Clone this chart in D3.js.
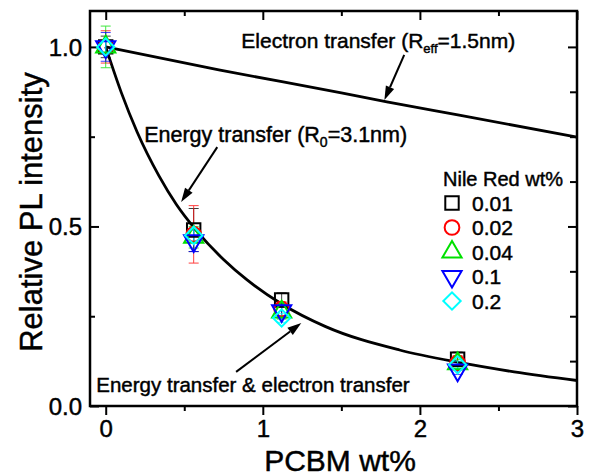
<!DOCTYPE html>
<html>
<head>
<meta charset="utf-8">
<script src="https://cdn.jsdelivr.net/npm/d3@7"></script>
<style>
  body { margin: 0; background: #fff; }
  svg { font-family: "Liberation Sans", Arial, sans-serif; }
  svg text { stroke: #000; stroke-width: 0.45px; }
</style>
</head>
<body>
<svg id="svg"></svg>
<script>
// measured data (PCBM wt%)
var pcbm = [0, 0.56, 1.12, 2.24];

var seriesNames = ["0.01", "0.02", "0.04", "0.1", "0.2"];
var val001 = [1.0, 0.49, 0.295, 0.13];
var val002 = [1.0, 0.478, 0.27, 0.12];
var val004 = [1.0, 0.47, 0.262, 0.118];
var val01 = [1.0, 0.46, 0.265, 0.10];
var val02 = [1.0, 0.475, 0.245, 0.115];

var err001 = [0.03, 0.06, 0.02, 0.02];
var err002 = [0.045, 0.08, 0.02, 0.02];
var err004 = [0.058, 0.03, 0.02, 0.012];
var err01 = [0.04, 0.03, 0.02, 0.012];
var err02 = [0.02, 0.02, 0.012, 0.01];

// fitted curves
var fitEtX = [0, 0.1, 0.2, 0.34, 0.45, 0.576, 0.75, 0.9, 1.12, 1.4, 1.87, 2.24, 2.6, 3.0];
var fitEtY = [1.0, 0.872, 0.763, 0.64, 0.561, 0.489, 0.408, 0.351, 0.284, 0.221, 0.156, 0.122, 0.095, 0.071];
var fitElX = [0, 0.72, 1.5, 1.79, 2.25, 3.0];
var fitElY = [1.0, 0.936, 0.872, 0.847, 0.81, 0.749];

var xTicks = [0, 1, 2, 3];
var yTicks = [0.0, 0.5, 1.0];

(function(){

var width = 590, height = 476,
    mLeft = 90, mRight = 577, mTop = 11, mBottom = 406;

var svg = d3.select("#svg").attr("width", width).attr("height", height);

var x = d3.scaleLinear().domain([-0.1, 3]).range([mLeft, mRight]);
var y = d3.scaleLinear().domain([0, 1.1]).range([mBottom, mTop]);

var colors = ["#000000", "#ff0000", "#00e000", "#0000ff", "#00ffff"];
var symbols = [d3.symbolSquare, d3.symbolCircle, d3.symbolTriangle, d3.symbolTriangle, d3.symbolSquare];
var symSizes = [180, 170, 160, 160, 150];
var rotations = [0, 0, 0, 180, 45];
var values = [val001, val002, val004, val01, val02];
var errors = [err001, err002, err004, err01, err02];

// axes
var xAxis = d3.axisBottom(x).tickValues(d3.range(0, 3.01, 0.5)).tickSize(8)
  .tickFormat(function(d){ return xTicks.indexOf(d) >= 0 ? d3.format("d")(d) : ""; });
var gx = svg.append("g").attr("transform", "translate(0," + mBottom + ")").call(xAxis);
gx.selectAll(".tick line").attr("y2", function(d){ return xTicks.indexOf(d) >= 0 ? 9 : 5; });

var yAxis = d3.axisLeft(y).tickValues(d3.range(0, 1.01, 0.25)).tickSize(-9)
  .tickFormat(function(d){ return yTicks.indexOf(d) >= 0 ? d3.format(".1f")(d) : ""; });
var gy = svg.append("g").attr("transform", "translate(" + mLeft + ",0)").call(yAxis);
gy.selectAll(".tick line").attr("x2", function(d){ return yTicks.indexOf(d) >= 0 ? 9 : 5; });

var gt = svg.append("g").attr("transform", "translate(0," + mTop + ")")
  .call(d3.axisTop(x).tickValues(d3.range(0, 3.01, 0.5)).tickSize(0).tickFormat(""));
gt.selectAll(".tick").append("line")
  .attr("y2", function(d){ return xTicks.indexOf(d) >= 0 ? 9 : 5; });

var gr = svg.append("g").attr("transform", "translate(" + mRight + ",0)")
  .call(d3.axisRight(y).tickValues(d3.range(0, 1.01, 0.125)).tickSize(0).tickFormat(""));
gr.selectAll(".tick").append("line")
  .attr("x2", function(d){ return yTicks.indexOf(d) >= 0 ? -9 : -7; });

[gx, gy, gt, gr].forEach(function(g){
  g.select(".domain").remove();
  g.selectAll(".tick line").attr("stroke", "#000").attr("stroke-width", 2);
  g.selectAll("text").attr("fill", "#000").style("font-size", "24px")
    .style("font-family", "'Liberation Sans', Arial, sans-serif");
});
gx.selectAll("text").attr("dy", "0.71em").attr("y", 14);
gy.selectAll("text").attr("x", -8).attr("dy", "0.35em");

svg.append("rect")
  .attr("x", mLeft).attr("y", mTop)
  .attr("width", mRight - mLeft).attr("height", mBottom - mTop)
  .attr("fill", "none").attr("stroke", "#000").attr("stroke-width", 2.5);

// axis titles
svg.append("text")
  .attr("x", 340).attr("y", 471)
  .attr("text-anchor", "middle").style("font-size", "30px")
  .text("PCBM wt%");
svg.append("text")
  .attr("transform", "translate(42,212) rotate(-90)")
  .attr("text-anchor", "middle").style("font-size", "31px")
  .text("Relative PL intensity");

// fit curves
var line = d3.line().curve(d3.curveMonotoneX)
  .x(function(d){ return x(d[0]); }).y(function(d){ return y(d[1]); });
svg.append("path").datum(d3.zip(fitElX, fitElY))
  .attr("d", line).attr("fill", "none").attr("stroke", "#000").attr("stroke-width", 2.8);
svg.append("path").datum(d3.zip(fitEtX, fitEtY))
  .attr("d", line).attr("fill", "none").attr("stroke", "#000").attr("stroke-width", 2.8);

// error bars + markers
values.forEach(function(vals, i){
  var g = svg.append("g");
  var pts = pcbm.map(function(p, j){ return {x: p, y: vals[j], e: errors[i][j]}; });
  var eb = g.selectAll(".eb").data(pts).enter().append("g")
    .attr("stroke", colors[i]).attr("stroke-width", 1).attr("opacity", 0.75);
  eb.append("line").attr("x1", function(d){ return x(d.x); }).attr("x2", function(d){ return x(d.x); })
    .attr("y1", function(d){ return y(d.y - d.e); }).attr("y2", function(d){ return y(d.y + d.e); });
  eb.append("line").attr("x1", function(d){ return x(d.x) - 5; }).attr("x2", function(d){ return x(d.x) + 5; })
    .attr("y1", function(d){ return y(d.y - d.e); }).attr("y2", function(d){ return y(d.y - d.e); });
  eb.append("line").attr("x1", function(d){ return x(d.x) - 5; }).attr("x2", function(d){ return x(d.x) + 5; })
    .attr("y1", function(d){ return y(d.y + d.e); }).attr("y2", function(d){ return y(d.y + d.e); });
});
values.forEach(function(vals, i){
  var sym = d3.symbol().type(symbols[i]).size(symSizes[i]);
  svg.append("g").selectAll("path").data(pcbm.map(function(p, j){ return [p, vals[j]]; }))
    .enter().append("path")
    .attr("d", sym)
    .attr("transform", function(d){ return "translate(" + x(d[0]) + "," + y(d[1]) + ") rotate(" + rotations[i] + ")"; })
    .attr("fill", "none").attr("stroke", colors[i]).attr("stroke-width", 2);
});

// legend
var lg = svg.append("g").attr("transform", "translate(443,0)");
lg.append("text").attr("x", 0).attr("y", 186).style("font-size", "20px").text("Nile Red wt%");
seriesNames.forEach(function(name, i){
  var yy = 203 + i * 24.5;
  lg.append("path").attr("d", d3.symbol().type(symbols[i]).size(symSizes[i])())
    .attr("transform", "translate(9," + yy + ") rotate(" + rotations[i] + ")")
    .attr("fill", "none").attr("stroke", colors[i]).attr("stroke-width", 2);
  lg.append("text").attr("x", 29).attr("y", yy).attr("dy", "0.36em").style("font-size", "21px").text(name);
});

// annotations
function arrow(x1, y1, x2, y2){
  var a = svg.append("g");
  var px1 = x(x1), py1 = y(y1), px2 = x(x2), py2 = y(y2);
  var ang = Math.atan2(py2 - py1, px2 - px1);
  var hl = 14, hw = 4.5;
  var bx = px2 - hl * Math.cos(ang), by = py2 - hl * Math.sin(ang);
  a.append("line").attr("x1", px1).attr("y1", py1).attr("x2", bx).attr("y2", by)
    .attr("stroke", "#000").attr("stroke-width", 2);
  a.append("path")
    .attr("d", "M" + px2 + "," + py2 +
      "L" + (bx + hw * Math.sin(ang)) + "," + (by - hw * Math.cos(ang)) +
      "L" + (bx - hw * Math.sin(ang)) + "," + (by + hw * Math.cos(ang)) + "Z")
    .attr("fill", "#000");
}
arrow(1.90, 0.978, 1.774, 0.852);
arrow(0.71, 0.721, 0.48, 0.568);
arrow(0.83, 0.095, 1.245, 0.231);

var t1 = svg.append("text").attr("x", x(0.863)).attr("y", y(0.997)).style("font-size", "21px");
t1.append("tspan").text("Electron transfer (R");
t1.append("tspan").attr("dy", 5).style("font-size", "13px").text("eff");
t1.append("tspan").attr("dy", -5).text("=1.5nm)");

var t2 = svg.append("text").attr("x", x(0.245)).attr("y", y(0.735)).style("font-size", "21.5px");
t2.append("tspan").text("Energy transfer (R");
t2.append("tspan").attr("dy", 5).style("font-size", "14px").text("0");
t2.append("tspan").attr("dy", -5).text("=3.1nm)");

svg.append("text").attr("x", x(-0.06)).attr("y", y(0.039)).style("font-size", "20.5px")
  .text("Energy transfer & electron transfer");

})();
</script>
</body>
</html>
